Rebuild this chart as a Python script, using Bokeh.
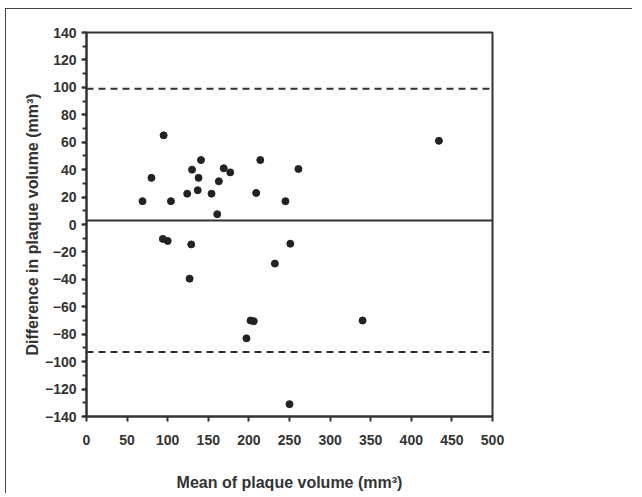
from bokeh.plotting import figure
from bokeh.models import Range1d, FixedTicker, Span, ColumnDataSource
from bokeh.embed import file_html
from bokeh.resources import INLINE

# Data (Bland-Altman plot)
mean_volume = [69, 80, 95, 104, 94, 100, 124, 130, 129, 127, 138, 141, 137, 154,
               161, 163, 169, 177, 197, 202, 206, 209, 214, 232, 245, 251, 250,
               261, 340, 434]
diff_volume = [17, 34, 65, 17, -10.5, -12, 22.5, 40, -14.5, -39.5, 34, 47, 25,
               22.5, 7.5, 31.5, 41, 38, -83, -70, -70.5, 23, 47, -28.5, 17, -14,
               -131, 40.5, -70, 61]
mean_diff = 3
upper_loa = 99
lower_loa = -93
x_ticks = list(range(0, 501, 50))
y_ticks = list(range(-140, 141, 20))
y_minor = list(range(-140, 141, 10))

FONT = "Liberation Sans"
INK = "#333333"

p = figure(frame_width=406, frame_height=384,
           min_border_left=80, min_border_top=23,
           min_border_right=140, min_border_bottom=74,
           x_range=Range1d(0, 500), y_range=Range1d(-140, 140),
           output_backend="svg", toolbar_location=None)
p.styles = {"border-top": "1px solid #444", "border-left": "1px solid #444",
            "margin-left": "5px", "margin-top": "8px"}

p.xgrid.visible = False
p.ygrid.visible = False
p.outline_line_color = INK
p.outline_line_width = 2
p.outline_line_alpha = 1

p.xaxis.ticker = FixedTicker(ticks=x_ticks, minor_ticks=[])
p.yaxis.ticker = FixedTicker(ticks=y_ticks, minor_ticks=y_minor)

for ax in (p.xaxis, p.yaxis):
    ax.axis_line_color = INK
    ax.axis_line_width = 2
    ax.major_tick_line_color = INK
    ax.major_tick_line_width = 2
    ax.major_tick_in = 0
    ax.major_tick_out = 5
    ax.minor_tick_line_color = INK
    ax.minor_tick_line_width = 2
    ax.minor_tick_in = 0
    ax.minor_tick_out = 4
    ax.major_label_text_font = FONT
    ax.major_label_text_font_style = "bold"
    ax.major_label_text_font_size = "14px"
    ax.major_label_text_color = INK
    ax.axis_label_text_font = FONT
    ax.axis_label_text_font_style = "bold"
    ax.axis_label_text_font_size = "16px"
    ax.axis_label_text_color = INK

p.xaxis.axis_label = "Mean of plaque volume (mm\u00b3)"
p.yaxis.axis_label = "Difference in plaque volume (mm\u00b3)"
p.xaxis.major_label_standoff = 13
p.xaxis.axis_label_standoff = 26
p.yaxis.major_label_standoff = 5
p.yaxis.axis_label_standoff = 1

p.add_layout(Span(location=mean_diff, dimension="width", line_color=INK, line_width=2))
p.add_layout(Span(location=upper_loa, dimension="width", line_color=INK, line_width=2,
                  line_dash="7 5"))
p.add_layout(Span(location=lower_loa, dimension="width", line_color=INK, line_width=2,
                  line_dash="7 5"))

src = ColumnDataSource(data=dict(x=mean_volume, y=diff_volume))
p.scatter("x", "y", source=src, size=7, fill_color="#222222", line_color="#222222")

open("out.html", "w").write(file_html(p, INLINE))
